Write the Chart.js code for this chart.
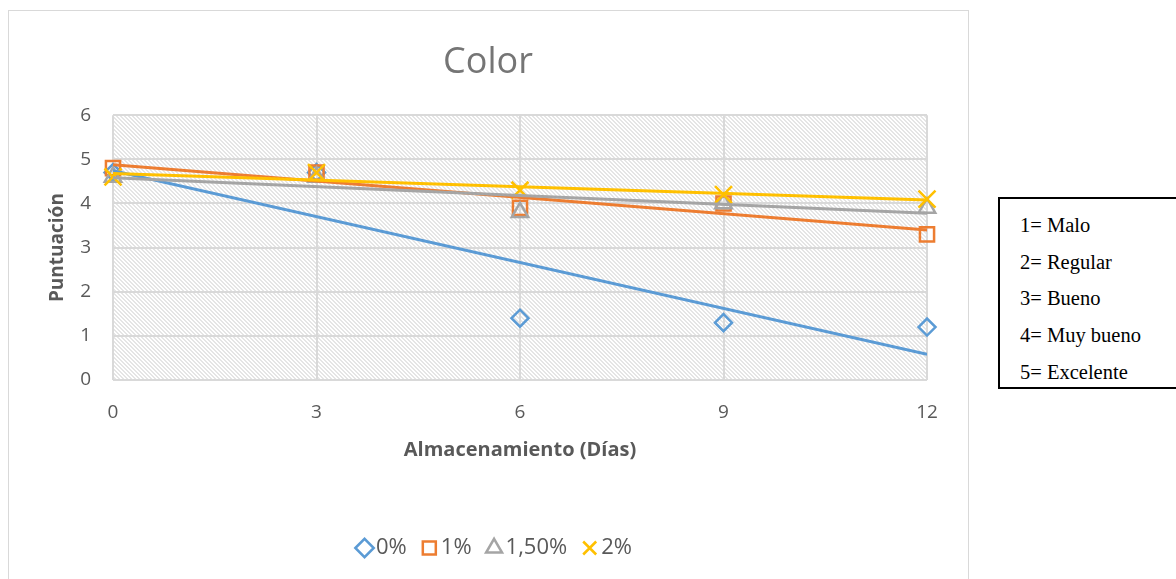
<!DOCTYPE html>
<html>
<head>
<meta charset="utf-8">
<script src="https://cdn.jsdelivr.net/npm/chart.js@4.4.1/dist/chart.umd.min.js"></script>
<style>
  html, body { margin: 0; padding: 0; background: #fff; overflow: hidden; }
  #wrap { position: relative; width: 1176px; height: 579px; }
  #c { position: absolute; left: 0; top: 0; }
  #escala {
    position: absolute; left: 998px; top: 197px; width: 220px; height: 188px;
    border: 2px solid #000; background: #fff;
    font-family: "Liberation Serif", "Times New Roman", serif; font-size: 20.5px; color: #000;
  }
  #escala div { position: absolute; left: 20px; line-height: 22px; white-space: nowrap; }
</style>
</head>
<body>
<div id="wrap">
  <canvas id="c" width="1176" height="579"></canvas>
  <div id="escala">
    <div style="top:15px">1= Malo</div>
    <div style="top:52px">2= Regular</div>
    <div style="top:88px">3= Bueno</div>
    <div style="top:125px">4= Muy bueno</div>
    <div style="top:162px">5= Excelente</div>
  </div>
</div>
<script>
// Días de almacenamiento y puntuación media de color por concentración
const dias = [0, 3, 6, 9, 12];
const serie0 = [4.7, 4.7, 1.4, 1.3, 1.2];
const serie1 = [4.8, 4.7, 3.9, 4.0, 3.3];
const serie150 = [4.6, 4.6, 3.8, 4.0, 3.9];
const serie2 = [4.6, 4.7, 4.3, 4.2, 4.1];
const nombres = ['0%', '1%', '1,50%', '2%'];
const colores = ['#5b9bd5', '#ed7d31', '#a5a5a5', '#ffc000'];
const simbolos = ['rectRot', 'rect', 'triangle', 'crossRot'];
const radios = [8.5, 10, 9.5, 12];

const FUENTE = '"Open Sans", "Liberation Sans", sans-serif';
const GRIS = '#595959';

const series = [serie0, serie1, serie150, serie2];

function puntos(valores) {
  return dias.map((d, i) => ({ x: d, y: valores[i] }));
}

// Recta de mínimos cuadrados (línea de tendencia lineal)
function tendencia(valores) {
  const n = dias.length;
  const mx = dias.reduce((s, v) => s + v, 0) / n;
  const my = valores.reduce((s, v) => s + v, 0) / n;
  let sxy = 0, sxx = 0;
  for (let i = 0; i < n; i++) {
    sxy += (dias[i] - mx) * (valores[i] - my);
    sxx += (dias[i] - mx) * (dias[i] - mx);
  }
  const b = sxy / sxx;
  const a = my - b * mx;
  const x0 = dias[0], x1 = dias[n - 1];
  return [{ x: x0, y: a + b * x0 }, { x: x1, y: a + b * x1 }];
}

const marcadores = series.map((v, i) => ({
  label: nombres[i],
  data: puntos(v),
  showLine: false,
  pointStyle: simbolos[i],
  pointRadius: radios[i],
  pointHoverRadius: radios[i],
  pointBorderWidth: 2.5,
  pointBorderColor: colores[i],
  pointBackgroundColor: 'rgba(0,0,0,0)',
  borderColor: colores[i],
  backgroundColor: 'rgba(0,0,0,0)',
  borderWidth: 2.5,
  clip: false,
  order: 4 - i
}));

const lineas = series.map((v, i) => ({
  label: 'Lineal (' + nombres[i] + ')',
  data: tendencia(v),
  showLine: true,
  borderColor: colores[i],
  borderWidth: 3,
  pointRadius: 0,
  pointHoverRadius: 0,
  fill: false,
  order: -1 - i
}));

// Trama diagonal del área de trazado
function trama(ctx) {
  const t = document.createElement('canvas');
  t.width = 4; t.height = 4;
  const g = t.getContext('2d');
  g.fillStyle = '#ffffff';
  g.fillRect(0, 0, 4, 4);
  g.fillStyle = '#e5e5e5';
  for (let i = 0; i < 4; i++) {
    g.fillRect(i, i, 1, 1);
    g.fillRect((i + 1) % 4, i, 1, 1);
  }
  return ctx.createPattern(t, 'repeat');
}

const fondo = {
  id: 'fondo',
  beforeDraw(chart) {
    const ctx = chart.ctx;
    const a = chart.chartArea;
    ctx.save();
    ctx.fillStyle = '#ffffff';
    ctx.fillRect(0, 0, chart.width, chart.height);
    ctx.strokeStyle = '#d9d9d9';
    ctx.lineWidth = 1;
    ctx.strokeRect(8.5, 10.5, 960, 600);
    ctx.fillStyle = trama(ctx);
    ctx.fillRect(a.left, a.top, a.right - a.left, a.bottom - a.top);
    ctx.restore();
  }
};

// Desplaza ligeramente la leyenda inferior hacia la derecha
const leyendaDesplazada = {
  id: 'leyendaDesplazada',
  afterLayout(chart) {
    if (chart.legend) {
      chart.legend.left += 10;
      chart.legend.right += 10;
    }
  }
};

new Chart(document.getElementById('c'), {
  type: 'scatter',
  data: { datasets: marcadores.concat(lineas) },
  plugins: [fondo, leyendaDesplazada],
  options: {
    responsive: false,
    animation: false,
    devicePixelRatio: 1,
    layout: { padding: { left: 8, right: 208, top: 10, bottom: 10 } },
    plugins: {
      tooltip: { enabled: false },
      title: {
        display: true,
        text: 'Color',
        color: '#757575',
        font: { family: FUENTE, size: 36, weight: 'normal' },
        padding: { top: 31, bottom: 31 }
      },
      legend: {
        position: 'bottom',
        labels: {
          usePointStyle: true,
          boxHeight: 13,
          boxWidth: 1,
          padding: 22,
          color: GRIS,
          font: { family: FUENTE, size: 22 },
          filter: (item) => item.datasetIndex < 4,
          sort: (a, b) => a.datasetIndex - b.datasetIndex
        }
      }
    },
    scales: {
      x: {
        type: 'linear',
        min: 0, max: 12,
        ticks: { stepSize: 3, color: GRIS, font: { family: FUENTE, size: 19 }, padding: 21 },
        grid: { color: '#d9d9d9', lineWidth: 2, drawTicks: false },
        border: { display: false },
        title: {
          display: true,
          text: 'Almacenamiento (Días)',
          color: GRIS,
          font: { family: FUENTE, size: 20, weight: 'bold' },
          padding: { top: 0, bottom: 53 }
        },
        afterFit: (s) => { s.height = 135; }
      },
      y: {
        min: 0, max: 6,
        ticks: { stepSize: 1, color: GRIS, font: { family: FUENTE, size: 19 }, padding: 22 },
        grid: { color: '#d9d9d9', lineWidth: 2, drawTicks: false },
        border: { display: false },
        title: {
          display: true,
          text: 'Puntuación',
          color: GRIS,
          font: { family: FUENTE, size: 19, weight: 'bold' },
          padding: { top: 38, bottom: 0 }
        },
        afterFit: (s) => { s.width = 105; }
      },
      margen: {
        position: 'right',
        display: true,
        grid: { display: false },
        border: { display: false },
        ticks: { display: false },
        afterFit: (s) => { s.width = 41; }
      }
    }
  }
});
</script>
</body>
</html>
